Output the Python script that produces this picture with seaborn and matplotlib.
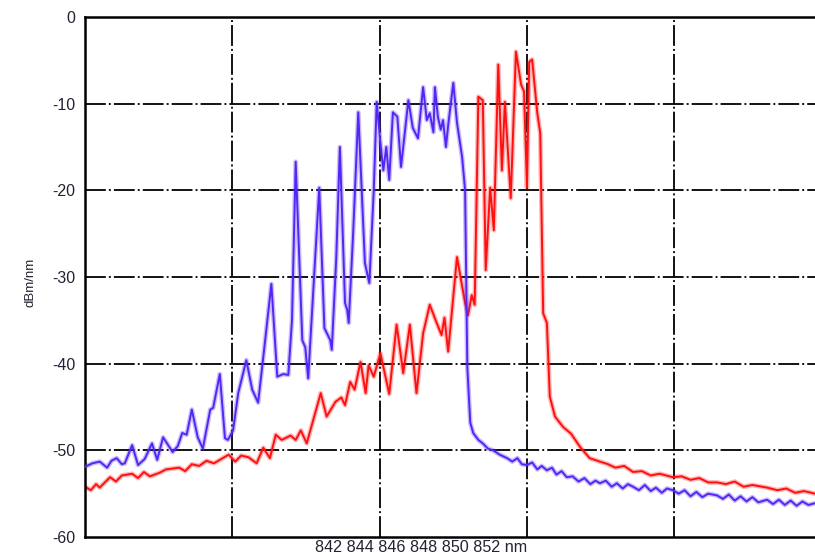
import matplotlib
matplotlib.use("Agg")
import matplotlib.pyplot as plt
import seaborn as sns
import pandas as pd

# ---- data (wavelength in nm, power in dBm/nm) ----
blue_nm = [842.00, 842.10, 842.20, 842.30, 842.36, 842.43, 842.50, 842.54, 842.64, 842.72,
           842.81, 842.91, 842.98, 843.06, 843.19, 843.26, 843.32, 843.38, 843.45, 843.53,
           843.60, 843.70, 843.74, 843.83, 843.90, 843.94, 844.01, 844.08, 844.19, 844.27,
           844.35, 844.43, 844.53, 844.61, 844.69, 844.76, 844.81, 844.86, 844.95, 844.99,
           845.03, 845.11, 845.18, 845.25, 845.33, 845.35, 845.41, 845.46, 845.53, 845.56,
           845.58, 845.64, 845.71, 845.80, 845.86, 845.92, 845.96, 846.01, 846.05, 846.09,
           846.13, 846.18, 846.24, 846.29, 846.39, 846.45, 846.52, 846.59, 846.64, 846.68,
           846.73, 846.75, 846.79, 846.83, 846.86, 846.90, 846.93, 847.00, 847.05, 847.12,
           847.16, 847.18, 847.19, 847.23, 847.27, 847.34, 847.40, 847.47, 847.54, 847.63,
           847.73, 847.80, 847.87, 847.93, 848.00, 848.07, 848.14, 848.20, 848.27, 848.34,
           848.40, 848.47, 848.54, 848.62, 848.70, 848.78, 848.86, 848.93, 848.99, 849.07,
           849.15, 849.22, 849.30, 849.37, 849.44, 849.52, 849.60, 849.68, 849.75, 849.83,
           849.90, 849.98, 850.06, 850.14, 850.22, 850.30, 850.38, 850.46, 850.58, 850.66,
           850.74, 850.82, 850.90, 850.98, 851.06, 851.14, 851.26, 851.34, 851.42, 851.50,
           851.58, 851.66, 851.74, 851.82, 851.91]
blue_db = [-51.9, -51.5, -51.3, -52.0, -51.2, -50.9, -51.6, -51.5, -49.4, -51.7,
           -51.0, -49.2, -51.1, -48.5, -50.2, -49.5, -48.0, -48.2, -45.3, -48.5,
           -49.8, -45.3, -45.1, -41.2, -48.6, -48.8, -47.7, -43.4, -39.6, -43.0,
           -44.5, -38.5, -30.8, -41.5, -41.2, -41.3, -35.0, -16.7, -37.3, -38.1,
           -41.7, -30.0, -19.7, -35.9, -37.3, -38.4, -28.0, -15.0, -33.0, -33.8,
           -35.3, -25.0, -11.0, -28.4, -30.7, -20.0, -9.8, -14.5, -17.7, -15.0,
           -18.8, -11.0, -11.5, -17.3, -9.6, -12.8, -14.0, -8.1, -11.9, -11.1,
           -13.3, -8.1, -11.5, -13.0, -11.9, -15.0, -12.5, -7.6, -12.2, -16.2,
           -20.0, -34.2, -40.4, -46.8, -48.0, -48.8, -49.2, -49.8, -50.0, -50.5,
           -50.9, -51.3, -50.9, -51.6, -51.7, -51.4, -52.2, -51.8, -52.3, -52.0,
           -52.8, -52.4, -53.1, -53.0, -53.6, -53.2, -53.9, -53.5, -53.8, -53.5,
           -54.2, -53.8, -54.4, -53.9, -54.2, -54.6, -54.0, -54.7, -54.3, -54.9,
           -54.4, -54.6, -55.0, -54.6, -55.3, -54.8, -55.4, -55.0, -55.2, -55.6,
           -55.1, -55.8, -55.3, -55.9, -55.4, -56.0, -55.7, -56.2, -55.7, -56.3,
           -55.8, -56.4, -55.9, -56.3, -56.1]

red_nm = [842.00, 842.08, 842.15, 842.20, 842.34, 842.42, 842.50, 842.64, 842.72, 842.80,
          842.88, 843.01, 843.10, 843.28, 843.36, 843.45, 843.55, 843.65, 843.75, 843.95,
          844.04, 844.12, 844.22, 844.33, 844.42, 844.51, 844.59, 844.67, 844.79, 844.86,
          844.93, 845.01, 845.20, 845.28, 845.40, 845.48, 845.53, 845.60, 845.66, 845.74,
          845.81, 845.85, 845.92, 846.01, 846.13, 846.23, 846.32, 846.41, 846.50, 846.59,
          846.68, 846.77, 846.84, 846.88, 846.93, 847.05, 847.16, 847.20, 847.25, 847.29,
          847.34, 847.40, 847.44, 847.50, 847.55, 847.61, 847.66, 847.70, 847.78, 847.85,
          847.92, 847.96, 848.00, 848.03, 848.07, 848.14, 848.18, 848.22, 848.27, 848.31,
          848.38, 848.49, 848.60, 848.72, 848.85, 848.99, 849.10, 849.20, 849.32, 849.44,
          849.56, 849.68, 849.80, 849.98, 850.10, 850.22, 850.34, 850.46, 850.58, 850.70,
          850.82, 850.94, 851.06, 851.26, 851.40, 851.52, 851.64, 851.76, 851.91]
red_db = [-54.2, -54.6, -53.9, -54.3, -53.1, -53.6, -52.9, -52.7, -53.2, -52.5,
          -53.0, -52.6, -52.2, -52.0, -52.4, -51.6, -51.8, -51.2, -51.5, -50.5,
          -51.3, -50.6, -50.8, -51.5, -49.7, -50.9, -48.2, -48.8, -48.3, -48.8,
          -47.7, -49.2, -43.4, -46.1, -44.4, -43.9, -44.8, -42.1, -43.0, -39.8,
          -43.4, -40.2, -41.5, -38.8, -43.5, -35.5, -41.1, -35.5, -43.4, -36.5,
          -33.2, -35.2, -36.7, -34.7, -38.6, -27.7, -33.0, -34.4, -32.1, -33.2,
          -9.2, -9.6, -29.2, -19.7, -24.6, -5.5, -17.7, -9.8, -20.9, -4.0,
          -7.8, -8.6, -19.7, -5.2, -4.9, -11.1, -13.4, -34.2, -35.3, -43.8,
          -46.1, -47.3, -48.1, -49.6, -50.9, -51.3, -51.6, -52.0, -51.8, -52.5,
          -52.4, -52.9, -52.7, -53.1, -53.0, -53.4, -53.2, -53.7, -53.7, -53.9,
          -53.6, -54.2, -54.0, -54.3, -54.6, -54.4, -54.9, -54.7, -55.0]

y_ticks = [0, -10, -20, -30, -40, -50, -60]
x_grid = [844, 846, 848, 850]
x_label_text = "842 844 846 848 850 852 nm"
y_label_text = "dBm/nm"

sns.set_style("white")
plt.rcParams["font.family"] = ["Liberation Sans", "DejaVu Sans"]
plt.rcParams["lines.scale_dashes"] = False

fig = plt.figure(figsize=(8.15, 5.58), dpi=100)
ax = fig.add_axes([85 / 815, 1 - 537 / 558, 1 - 85 / 815, (537 - 17) / 558])

df_b = pd.DataFrame({"nm": blue_nm, "db": blue_db})
df_r = pd.DataFrame({"nm": red_nm, "db": red_db})
blue_c = "#5226F5"
red_c = "#FF1010"
# soft halo (the reference traces look slightly blurred)
sns.lineplot(data=df_r, x="nm", y="db", ax=ax, color=red_c, lw=3.4, alpha=0.3,
             estimator=None, sort=False, zorder=2)
sns.lineplot(data=df_r, x="nm", y="db", ax=ax, color=red_c, lw=1.4,
             estimator=None, sort=False, zorder=2)
sns.lineplot(data=df_b, x="nm", y="db", ax=ax, color=blue_c, lw=3.4, alpha=0.3,
             estimator=None, sort=False, zorder=3)
sns.lineplot(data=df_b, x="nm", y="db", ax=ax, color=blue_c, lw=1.4,
             estimator=None, sort=False, zorder=3)

ax.set_xlim(842, 851.91)
ax.set_ylim(-60, 0)
ax.set_xticks(x_grid)
ax.set_xticklabels([])
ax.set_yticks(y_ticks)
ax.set_yticklabels([str(v) for v in y_ticks], fontsize=11.5, color="#222233")
ax.tick_params(axis="both", length=0, pad=7)
ax.set_xlabel("")
ax.set_ylabel("")

dash = (0, (15, 2.2, 1.4, 2.2))
for v in x_grid:
    ax.axvline(v, color="black", lw=1.3, ls=dash, zorder=1)
for v in y_ticks[1:-1]:
    ax.axhline(v, color="black", lw=1.3, ls=dash, zorder=1)

for s in ["left", "bottom", "top"]:
    ax.spines[s].set_visible(True)
    ax.spines[s].set_color("black")
    ax.spines[s].set_linewidth(1.8)
ax.spines["right"].set_visible(False)

fig.text(30 / 815, 1 - 282 / 558, y_label_text, rotation=90, fontsize=9.5,
         ha="center", va="center", color="#222233")
fig.text(421 / 815, 1 - 548 / 558, x_label_text, fontsize=11.6,
         ha="center", va="center", color="#222233")

fig.savefig("out.png", dpi=100)
